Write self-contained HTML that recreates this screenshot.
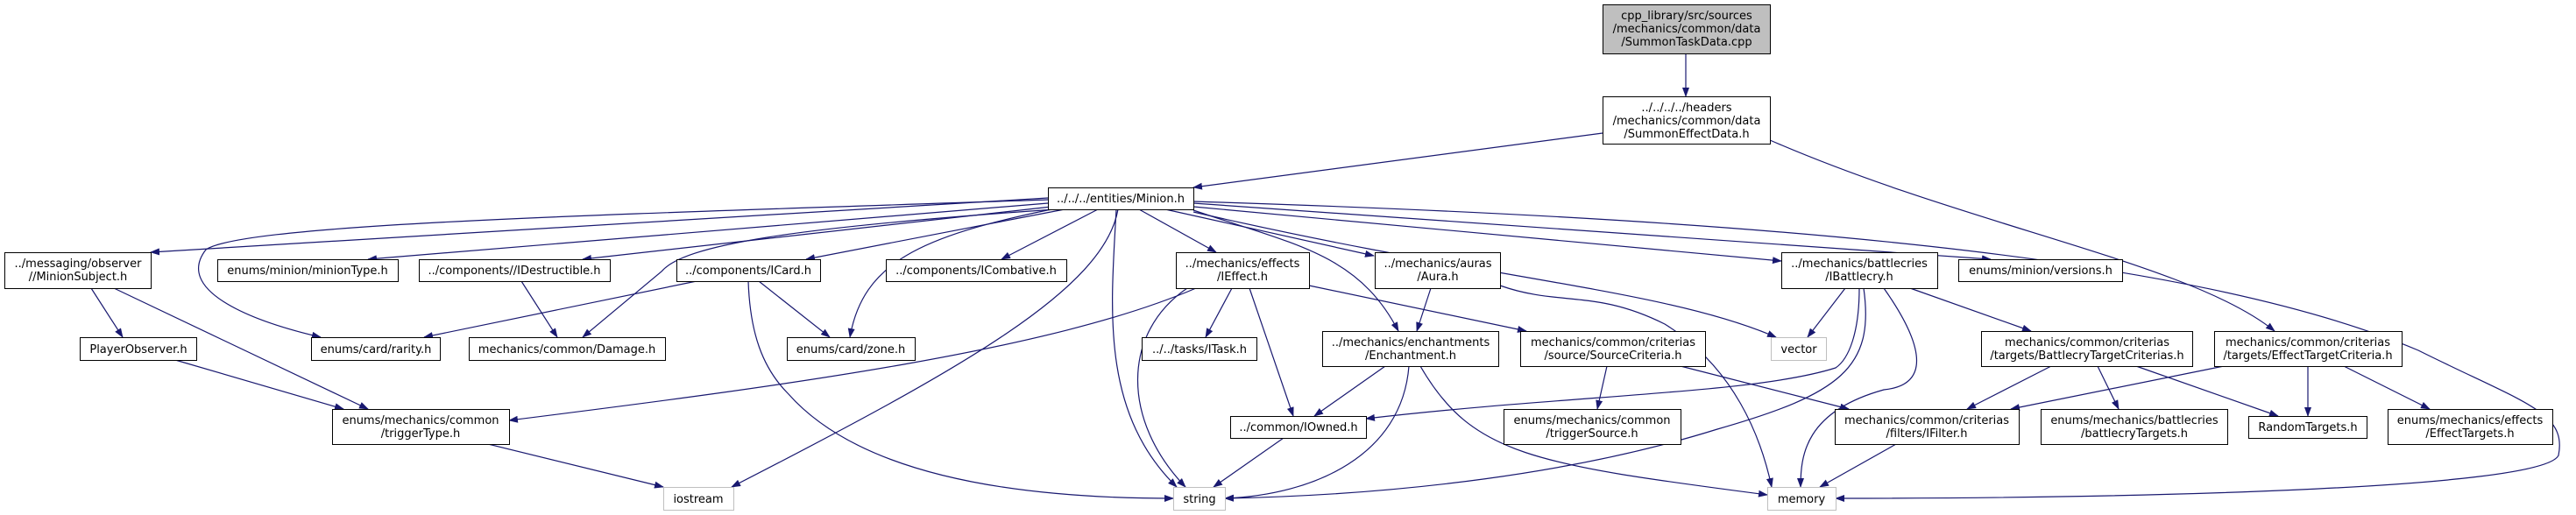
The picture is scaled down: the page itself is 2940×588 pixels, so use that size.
<!DOCTYPE html>
<html><head><meta charset="utf-8"><style>
html,body{margin:0;padding:0;background:#fff;width:2940px;height:588px;overflow:hidden}
svg text{font-family:"DejaVu Sans","Liberation Sans",sans-serif;font-size:13px;fill:#000;text-anchor:middle}
</style></head><body>
<svg width="2940" height="588" viewBox="0 0 2940 588" xmlns="http://www.w3.org/2000/svg">
<defs><marker id="a" markerWidth="11" markerHeight="8" refX="10" refY="4" orient="auto" markerUnits="userSpaceOnUse"><path d="M0,0 L11,4 L0,8 z" fill="#191970"/></marker></defs>
<g fill="none" stroke="#191970" stroke-width="1.2" marker-end="url(#a)">
<path d="M1924,61 L1924,110"/>
<path d="M1829,152 L1362,214"/>
<path d="M2020,160 C2250,260 2500,300 2596,378"/>
<path d="M1196,226 L172,288"/>
<path d="M1196,228 C700,245 280,255 235,285 C200,330 280,365 366,385"/>
<path d="M1196,232 L420,296"/>
<path d="M1200,236 L665,296"/>
<path d="M1205,239 C900,260 780,280 755,310 L665,385"/>
<path d="M1215,239 L920,296"/>
<path d="M1200,239 C1050,270 985,300 970,385"/>
<path d="M1253,239 L1143,296"/>
<path d="M1276,239 C1260,330 1100,420 835,556"/>
<path d="M1274,239 C1268,350 1255,470 1343,556"/>
<path d="M1300,239 L1388,288"/>
<path d="M1330,239 L1568,292"/>
<path d="M1362,240 C1480,280 1550,290 1596,378"/>
<path d="M1362,236 L2033,298"/>
<path d="M1362,232 L2272,296"/>
<path d="M1362,230 C2000,250 2500,290 2760,400 C2880,460 2930,470 2920,520 C2900,560 2400,569 2095,569"/>
<path d="M1362,242 C1700,320 1900,330 2027,385"/>
<path d="M1365,329 C1200,400 900,440 581,480"/>
<path d="M1406,329 L1376,385"/>
<path d="M1426,329 L1476,475"/>
<path d="M1355,329 C1280,380 1280,480 1353,556"/>
<path d="M1494,326 L1742,378"/>
<path d="M1633,329 L1617,378"/>
<path d="M1712,326 C1780,350 1820,330 1900,370 C1980,420 2010,500 2022,556"/>
<path d="M1581,418 L1500,475"/>
<path d="M1608,418 C1600,520 1500,565 1398,569"/>
<path d="M1621,418 C1680,520 1750,530 2017,565"/>
<path d="M1834,418 L1823,467"/>
<path d="M1918,418 L2110,467"/>
<path d="M1465,500 L1385,556"/>
<path d="M2106,329 L2063,385"/>
<path d="M2122,329 C2122,380 2110,410 2095,420 C2000,450 1800,450 1559,478"/>
<path d="M2127,329 C2140,420 2100,450 1960,490 C1800,540 1600,565 1398,569"/>
<path d="M2150,329 C2200,400 2200,440 2150,445 C2060,470 2055,520 2055,556"/>
<path d="M2180,329 L2318,378"/>
<path d="M2341,418 L2245,467"/>
<path d="M2394,418 L2418,467"/>
<path d="M2438,418 L2600,475"/>
<path d="M2538,418 L2295,467"/>
<path d="M2634,418 L2634,475"/>
<path d="M2675,418 L2773,467"/>
<path d="M2164,507 L2077,556"/>
<path d="M104,329 L140,385"/>
<path d="M130,329 L420,467"/>
<path d="M200,411 L392,467"/>
<path d="M595,321 L636,385"/>
<path d="M795,321 L484,385"/>
<path d="M866,321 L947,385"/>
<path d="M854,321 C856,380 870,420 900,450 C980,540 1150,569 1339,569"/>
<path d="M557,507 L757,556"/>
</g>
<g stroke="#000" stroke-width="1" fill="#fff">
<rect x="1829.5" y="5.5" width="191" height="56" fill="#bfbfbf"/>
<rect x="1829.5" y="110.5" width="191" height="54"/>
<rect x="1196.5" y="214.5" width="166" height="25"/>
<rect x="5.5" y="288.5" width="167" height="41"/>
<rect x="248.5" y="296.5" width="206" height="25"/>
<rect x="478.5" y="296.5" width="218" height="25"/>
<rect x="772.5" y="296.5" width="164" height="25"/>
<rect x="1011.5" y="296.5" width="206" height="25"/>
<rect x="1342.5" y="288.5" width="152" height="41"/>
<rect x="1569.5" y="288.5" width="143" height="41"/>
<rect x="2033.5" y="288.5" width="178" height="41"/>
<rect x="2235.5" y="296.5" width="187" height="25"/>
<rect x="91.5" y="385.5" width="133" height="26"/>
<rect x="355.5" y="385.5" width="147" height="26"/>
<rect x="535.5" y="385.5" width="224" height="26"/>
<rect x="898.5" y="385.5" width="146" height="26"/>
<rect x="1303.5" y="385.5" width="131" height="26"/>
<rect x="1509.5" y="378.5" width="201" height="40"/>
<rect x="1735.5" y="378.5" width="211" height="40"/>
<rect x="2261.5" y="378.5" width="241" height="40"/>
<rect x="2527.5" y="378.5" width="214" height="40"/>
<rect x="379.5" y="467.5" width="202" height="40"/>
<rect x="1404.5" y="475.5" width="155" height="25"/>
<rect x="1716.5" y="467.5" width="202" height="40"/>
<rect x="2094.5" y="467.5" width="210" height="40"/>
<rect x="2329.5" y="467.5" width="213" height="40"/>
<rect x="2566.5" y="475.5" width="135" height="25"/>
<rect x="2725.5" y="467.5" width="188" height="40"/>
</g>
<g stroke="#bfbfbf" stroke-width="1" fill="#fff">
<rect x="2021.5" y="385.5" width="63" height="26"/>
<rect x="757.5" y="556.5" width="80" height="26"/>
<rect x="1339.5" y="556.5" width="59" height="26"/>
<rect x="2017.5" y="556.5" width="78" height="26"/>
</g>
<g>
<text x="1925" y="22">cpp_library/src/sources</text><text x="1925" y="37">/mechanics/common/data</text><text x="1925" y="52">/SummonTaskData.cpp</text>
<text x="1925" y="127">../../../../headers</text><text x="1925" y="142">/mechanics/common/data</text><text x="1925" y="157">/SummonEffectData.h</text>
<text x="1279" y="231">../../../entities/Minion.h</text>
<text x="89" y="305">../messaging/observer</text><text x="89" y="320">//MinionSubject.h</text>
<text x="351" y="313">enums/minion/minionType.h</text>
<text x="587" y="313">../components//IDestructible.h</text>
<text x="854" y="313">../components/ICard.h</text>
<text x="1114" y="313">../components/ICombative.h</text>
<text x="1418" y="305">../mechanics/effects</text><text x="1418" y="320">/IEffect.h</text>
<text x="1641" y="305">../mechanics/auras</text><text x="1641" y="320">/Aura.h</text>
<text x="2122" y="305">../mechanics/battlecries</text><text x="2122" y="320">/IBattlecry.h</text>
<text x="2329" y="313">enums/minion/versions.h</text>
<text x="158" y="403">PlayerObserver.h</text>
<text x="429" y="403">enums/card/rarity.h</text>
<text x="647" y="403">mechanics/common/Damage.h</text>
<text x="971" y="403">enums/card/zone.h</text>
<text x="1369" y="403">../../tasks/ITask.h</text>
<text x="2053" y="403">vector</text>
<text x="1610" y="395">../mechanics/enchantments</text><text x="1610" y="410">/Enchantment.h</text>
<text x="1841" y="395">mechanics/common/criterias</text><text x="1841" y="410">/source/SourceCriteria.h</text>
<text x="2382" y="395">mechanics/common/criterias</text><text x="2382" y="410">/targets/BattlecryTargetCriterias.h</text>
<text x="2634" y="395">mechanics/common/criterias</text><text x="2634" y="410">/targets/EffectTargetCriteria.h</text>
<text x="480" y="484">enums/mechanics/common</text><text x="480" y="499">/triggerType.h</text>
<text x="1482" y="492">../common/IOwned.h</text>
<text x="1817" y="484">enums/mechanics/common</text><text x="1817" y="499">/triggerSource.h</text>
<text x="2199" y="484">mechanics/common/criterias</text><text x="2199" y="499">/filters/IFilter.h</text>
<text x="2436" y="484">enums/mechanics/battlecries</text><text x="2436" y="499">/battlecryTargets.h</text>
<text x="2634" y="492">RandomTargets.h</text>
<text x="2819" y="484">enums/mechanics/effects</text><text x="2819" y="499">/EffectTargets.h</text>
<text x="797" y="574">iostream</text>
<text x="1369" y="574">string</text>
<text x="2056" y="574">memory</text>
</g>
</svg>
</body></html>
